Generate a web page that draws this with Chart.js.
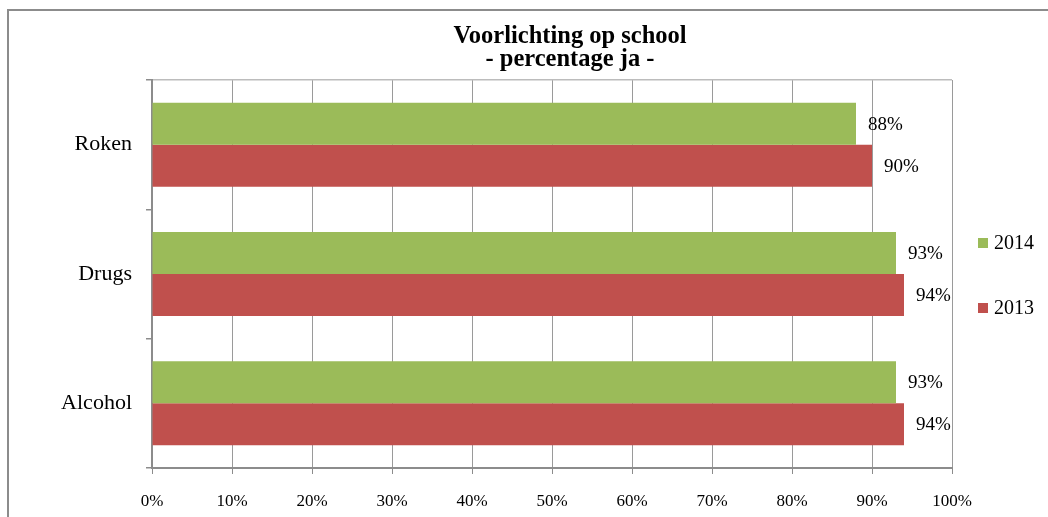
<!DOCTYPE html>
<html>
<head>
<meta charset="utf-8">
<script src="https://cdn.jsdelivr.net/npm/chart.js@4"></script>
<style>
  html, body { margin: 0; padding: 0; background: #fff; overflow: hidden; }
  #frame { position: absolute; left: 7px; top: 9px; width: 1100px; height: 600px;
           border-left: 2px solid #8c8c8c; border-top: 2px solid #8c8c8c; }
  #wrap { position: absolute; left: 0; top: 0; width: 1140px; height: 517px; }
</style>
</head>
<body>
<div id="frame"></div>
<div id="wrap"><canvas id="c" width="1140" height="517"></canvas></div>
<script>
const categories = ['Roken', 'Drugs', 'Alcohol'];
const series2014 = [88, 93, 93];
const series2013 = [90, 94, 94];
const seriesLabels = ['2014', '2013'];
const xTicks = [0, 10, 20, 30, 40, 50, 60, 70, 80, 90, 100];
const titleLines = ['Voorlichting op school', '- percentage ja -'];

const FONT = "'Liberation Serif', 'Times New Roman', serif";

const valueLabels = {
  id: 'valueLabels',
  afterDatasetsDraw(chart) {
    const ctx = chart.ctx;
    ctx.save();
    ctx.font = '19px ' + FONT;
    ctx.fillStyle = '#000';
    ctx.textAlign = 'left';
    ctx.textBaseline = 'middle';
    chart.data.datasets.forEach((ds, di) => {
      const meta = chart.getDatasetMeta(di);
      meta.data.forEach((el, i) => {
        ctx.fillText(ds.data[i] + '%', el.x + 12, el.y + 1);
      });
    });
    ctx.restore();
  }
};

const sideLegend = {
  id: 'sideLegend',
  afterDraw(chart) {
    const ctx = chart.ctx;
    ctx.save();
    ctx.font = '20px ' + FONT;
    ctx.textAlign = 'left';
    ctx.textBaseline = 'middle';
    const x = chart.chartArea.right + 26;
    const yStart = 243, step = 65;
    chart.data.datasets.forEach((ds, i) => {
      const y = yStart + i * step;
      ctx.fillStyle = ds.backgroundColor;
      ctx.fillRect(x, y - 5, 10, 10);
      ctx.fillStyle = '#000';
      ctx.fillText(ds.label, x + 16, y + 1);
    });
    ctx.restore();
  }
};

// centre the title over the whole (wider) chart frame, not just the padded area
const titleSpan = {
  id: 'titleSpan',
  afterLayout(chart) {
    const t = chart.titleBlock;
    if (t) { t.left = 0; t.right = chart.width; t.width = chart.width; }
  }
};

new Chart(document.getElementById('c'), {
  type: 'bar',
  data: {
    labels: categories,
    datasets: [
      { label: seriesLabels[0], data: series2014, backgroundColor: '#9BBB59',
        categoryPercentage: 0.65, barPercentage: 1.0 },
      { label: seriesLabels[1], data: series2013, backgroundColor: '#C0504D',
        categoryPercentage: 0.65, barPercentage: 1.0 }
    ]
  },
  options: {
    indexAxis: 'y',
    responsive: false,
    animation: false,
    devicePixelRatio: 1,
    layout: { padding: { left: 0, right: 188, top: 0, bottom: 0 } },
    plugins: {
      legend: { display: false },
      tooltip: { enabled: false },
      title: {
        display: true,
        text: titleLines,
        color: '#000',
        font: { family: FONT, size: 24.5, weight: 'bold', lineHeight: 0.94 },
        padding: { top: 25, bottom: 9 }
      }
    },
    scales: {
      x: {
        min: 0, max: 100,
        afterBuildTicks(scale) { scale.ticks = xTicks.map(v => ({ value: v })); },
        afterFit(scale) { scale.height = 49; },
        ticks: {
          color: '#000',
          font: { family: FONT, size: 17 },
          padding: 17,
          maxRotation: 0,
          callback: v => v + '%'
        },
        grid: { color: '#9a9a9a', lineWidth: 1, tickLength: 6, tickColor: '#8c8c8c' },
        border: { color: '#8c8c8c', width: 2 }
      },
      y: {
        afterFit(scale) { scale.width = 152; },
        ticks: {
          color: '#000',
          font: { family: FONT, size: 22 },
          padding: 14
        },
        grid: {
          offset: true,
          drawOnChartArea: true,
          color: ctx => (ctx.index === 0 ? '#bcbcbc' : 'rgba(0,0,0,0)'),
          tickColor: '#8c8c8c',
          tickLength: 6,
          lineWidth: 1.5
        },
        border: { color: '#8c8c8c', width: 2 }
      }
    }
  },
  plugins: [valueLabels, sideLegend, titleSpan]
});
</script>
</body>
</html>
